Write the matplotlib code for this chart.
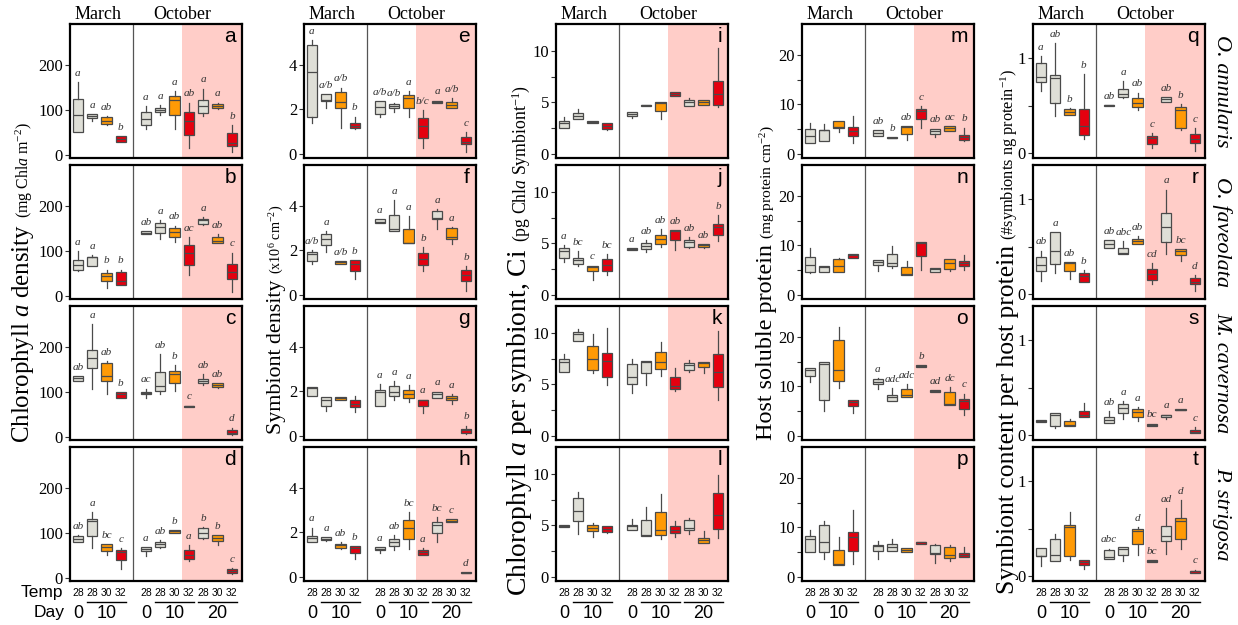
#!/usr/bin/env python3
import matplotlib
matplotlib.use("Agg")
import matplotlib.pyplot as plt

# Treatment layout shared by every panel: March (4 boxes) then October (7 boxes).
temps = [28, 28, 30, 32, 28, 28, 30, 32, 28, 30, 32]
day_labels = ["0", "10", "0", "10", "20"]
months = ["March", "October"]
species = ["O. annularis", "O. faveolata", "M. cavernosa", "P. strigosa"]

# Box statistics per panel: (whisker low, q1, median, q3, whisker high)
a_box = [(51, 51, 89, 125, 162), (75, 81, 87, 91, 91), (65, 68, 76, 83, 86), (28, 29, 34, 41, 42),
         (57, 66, 80, 95, 108), (89, 94, 100, 104, 110), (57, 88, 121, 131, 142), (14, 44, 76, 95, 116),
         (85, 92, 108, 122, 147), (102, 104, 108, 112, 116), (6, 20, 27, 48, 65)]
b_box = [(54, 57, 69, 79, 100), (66, 66, 85, 86, 91), (17, 32, 43, 51, 58), (24, 24, 32, 53, 58),
         (137, 137, 140, 143, 143), (126, 139, 153, 162, 168), (120, 130, 142, 150, 156), (45, 69, 94, 113, 130),
         (158, 160, 168, 171, 175), (118, 118, 122, 130, 137), (9, 36, 53, 71, 96)]
c_box = [(125, 125, 130, 134, 134), (107, 153, 175, 194, 251), (96, 125, 134, 164, 168), (87, 87, 94, 100, 100),
         (87, 94, 97, 100, 107), (96, 102, 113, 143, 183), (101, 119, 139, 147, 159), (66, 66, 68, 69, 69),
         (116, 119, 124, 128, 139), (108, 110, 116, 120, 120), (3, 5, 9, 14, 20)]
d_box = [(80, 80, 86, 93, 95), (66, 93, 127, 131, 146), (51, 59, 68, 74, 74), (19, 40, 56, 61, 65),
         (49, 59, 63, 68, 68), (66, 68, 76, 80, 84), (100, 100, 103, 105, 105), (38, 42, 51, 61, 72),
         (86, 89, 99, 110, 112), (72, 82, 89, 94, 94), (8, 11, 15, 19, 21)]
e_box = [(1.36, 1.63, 3.65, 4.9, 5.09), (2.07, 2.38, 2.4, 2.69, 2.69), (1.13, 2.07, 2.31, 2.75, 2.97), (1.1, 1.13, 1.25, 1.36, 1.66),
         (1.66, 1.78, 2.11, 2.37, 2.37), (1.89, 2.04, 2.14, 2.23, 2.29), (1.66, 2.07, 2.49, 2.64, 2.82), (0.23, 0.72, 1.24, 1.62, 1.96),
         (2.26, 2.26, 2.34, 2.38, 2.38), (2.04, 2.04, 2.19, 2.34, 2.49), (0.08, 0.41, 0.53, 0.75, 0.98)]
f_box = [(1.36, 1.49, 1.81, 1.92, 1.99), (1.92, 2.25, 2.52, 2.72, 2.87), (1.39, 1.39, 1.45, 1.51, 1.51), (0.71, 1.06, 1.36, 1.54, 1.54),
         (3.23, 3.23, 3.28, 3.4, 3.4), (2.87, 2.87, 2.97, 3.58, 4.26), (2.32, 2.32, 2.34, 2.94, 3.53), (1.06, 1.31, 1.62, 1.87, 2.14),
         (2.97, 3.4, 3.43, 3.77, 3.83), (2.26, 2.48, 2.6, 3.0, 3.05), (0.15, 0.59, 0.86, 1.09, 1.28)]
g_box = [(1.76, 1.76, 2.14, 2.18, 2.2), (1.1, 1.35, 1.61, 1.73, 1.73), (1.62, 1.62, 1.68, 1.73, 1.73), (1.05, 1.28, 1.43, 1.58, 1.8),
         (1.35, 1.35, 1.95, 2.03, 2.3), (1.62, 1.8, 1.98, 2.21, 2.45), (1.53, 1.68, 1.85, 2.03, 2.26), (1.01, 1.31, 1.58, 1.62, 1.62),
         (1.68, 1.68, 1.88, 1.95, 1.98), (1.43, 1.58, 1.7, 1.76, 1.85), (0.08, 0.12, 0.23, 0.3, 0.45)]
h_box = [(1.56, 1.56, 1.74, 1.83, 2.2), (1.6, 1.66, 1.71, 1.76, 1.76), (1.25, 1.3, 1.4, 1.48, 1.55), (0.79, 1.07, 1.28, 1.36, 1.36),
         (1.07, 1.18, 1.25, 1.33, 1.33), (1.18, 1.36, 1.56, 1.68, 1.86), (1.25, 1.71, 2.17, 2.55, 2.9), (0.98, 0.98, 1.1, 1.18, 1.28),
         (1.56, 1.98, 2.3, 2.47, 2.66), (2.44, 2.44, 2.52, 2.6, 2.6), (0.14, 0.14, 0.17, 0.21, 0.21)]
i_box = [(2.54, 2.54, 2.97, 3.2, 3.53), (3.4, 3.4, 3.63, 3.96, 4.39), (2.97, 2.97, 3.13, 3.23, 3.23), (2.31, 2.41, 2.74, 2.97, 2.97),
         (3.47, 3.63, 3.86, 4.03, 4.03), (4.62, 4.62, 4.72, 4.79, 4.79), (3.37, 4.13, 4.95, 5.02, 5.02), (5.61, 5.61, 5.84, 6.0, 6.0),
         (4.69, 4.69, 5.02, 5.21, 5.38), (4.72, 4.72, 5.05, 5.18, 5.18), (4.52, 4.79, 5.84, 7.03, 10.23)]
j_box = [(3.17, 3.53, 4.27, 4.5, 4.83), (2.77, 3.03, 3.37, 3.6, 4.27), (1.43, 2.27, 2.67, 2.83, 2.83), (1.93, 2.33, 2.87, 3.5, 3.93),
         (4.33, 4.33, 4.43, 4.5, 4.5), (4.17, 4.43, 4.77, 5.0, 5.33), (4.6, 4.93, 5.43, 5.83, 6.37), (4.37, 5.33, 6.2, 6.27, 6.27),
         (4.5, 4.67, 5.1, 5.33, 5.6), (4.5, 4.6, 4.8, 4.93, 4.93), (5.2, 5.77, 6.6, 6.87, 7.77)]
k_box = [(6.16, 6.16, 7.15, 7.48, 7.97), (9.18, 9.18, 9.93, 10.07, 10.33), (6.07, 6.39, 7.48, 8.75, 9.84), (4.92, 5.67, 7.28, 8.03, 10.49),
         (4.2, 5.08, 5.67, 6.98, 7.44), (4.92, 6.07, 7.2, 7.28, 7.28), (5.84, 6.49, 7.15, 8.13, 9.08), (4.33, 4.52, 4.82, 5.74, 6.62),
         (6.16, 6.39, 6.89, 7.11, 7.38), (6.07, 6.72, 7.05, 7.21, 7.21), (3.44, 4.75, 6.23, 7.93, 10.16)]
l_box = [(4.87, 4.87, 4.97, 5.07, 5.07), (4.18, 5.39, 6.38, 7.63, 8.22), (3.85, 4.44, 4.74, 5.0, 5.26), (4.24, 4.34, 4.67, 4.9, 4.9),
         (4.57, 4.57, 4.9, 5.07, 5.66), (4.01, 4.01, 4.08, 5.49, 6.81), (3.68, 4.08, 4.51, 6.25, 8.06), (3.91, 4.24, 4.57, 4.93, 5.39),
         (4.18, 4.51, 4.74, 5.49, 5.72), (3.26, 3.26, 3.62, 3.75, 4.41), (3.75, 4.61, 5.99, 8.13, 9.93)]
m_box = [(2.26, 2.26, 3.63, 5.14, 6.16), (2.53, 2.53, 4.79, 4.93, 6.03), (4.45, 5.27, 5.4, 6.71, 6.71), (2.19, 3.56, 4.59, 5.48, 7.74),
         (3.56, 3.56, 4.25, 4.79, 4.79), (3.15, 3.15, 3.29, 3.42, 3.42), (2.74, 4.04, 5.48, 5.62, 5.62), (5.27, 6.99, 8.77, 9.11, 9.59),
         (3.42, 3.97, 4.59, 5.14, 5.14), (4.66, 4.66, 5.34, 5.62, 5.62), (2.53, 2.74, 3.42, 3.9, 5.34)]
n_box = [(4.47, 4.67, 6.05, 7.63, 9.48), (4.54, 4.54, 5.57, 5.91, 5.91), (4.67, 4.67, 5.84, 7.22, 7.56), (7.56, 7.56, 7.97, 8.25, 8.25),
         (4.88, 6.05, 6.74, 7.08, 7.08), (5.5, 5.91, 6.53, 8.25, 9.97), (3.99, 3.99, 4.33, 5.57, 6.87), (5.02, 7.77, 10.5, 10.72, 10.72),
         (4.67, 4.67, 5.22, 5.5, 5.5), (4.88, 5.15, 6.39, 7.29, 7.29), (5.02, 5.84, 6.53, 6.87, 7.97)]
o_box = [(10.96, 12.19, 13.36, 13.7, 13.7), (5.14, 7.33, 14.52, 14.93, 14.93), (9.73, 11.16, 13.36, 19.32, 21.92), (4.66, 6.03, 6.85, 7.19, 7.19),
         (9.45, 10.48, 10.96, 11.51, 11.6), (6.99, 6.99, 7.88, 8.36, 9.59), (7.88, 7.88, 8.22, 9.38, 10.48), (13.97, 13.97, 14.18, 14.32, 14.32),
         (8.97, 8.97, 9.11, 9.25, 9.25), (6.16, 6.16, 6.51, 8.9, 9.93), (4.32, 5.48, 7.12, 7.4, 8.56)]
p_box = [(5.14, 5.14, 7.67, 8.36, 9.38), (3.7, 5.14, 6.99, 10.55, 11.23), (2.33, 2.33, 2.53, 5.48, 8.01), (2.53, 5.27, 8.01, 9.04, 13.49),
         (3.7, 5.27, 6.16, 6.51, 7.19), (5.27, 5.27, 5.96, 6.64, 7.67), (5.07, 5.07, 5.48, 5.75, 5.75), (6.64, 6.64, 6.99, 7.12, 7.12),
         (2.88, 4.59, 4.79, 6.51, 6.6), (3.22, 3.9, 4.45, 5.96, 6.51), (4.04, 4.04, 4.45, 4.79, 6.1)]
q_box = [(0.656, 0.745, 0.805, 0.947, 1.02), (0.39, 0.532, 0.787, 0.823, 1.16), (0.4, 0.4, 0.436, 0.461, 0.479), (0.152, 0.195, 0.284, 0.461, 0.833),
         (0.496, 0.496, 0.504, 0.507, 0.507), (0.578, 0.592, 0.628, 0.681, 0.762), (0.45, 0.486, 0.525, 0.578, 0.638), (0.053, 0.096, 0.16, 0.177, 0.213),
         (0.539, 0.539, 0.574, 0.592, 0.592), (0.248, 0.266, 0.45, 0.486, 0.514), (0.025, 0.106, 0.152, 0.202, 0.266)]
r_box = [(0.139, 0.246, 0.31, 0.389, 0.46), (0.22, 0.32, 0.46, 0.65, 0.65), (0.16, 0.246, 0.33, 0.34, 0.34), (0.13, 0.13, 0.19, 0.22, 0.25),
         (0.49, 0.49, 0.525, 0.568, 0.568), (0.425, 0.425, 0.435, 0.49, 0.56), (0.525, 0.525, 0.56, 0.578, 0.614), (0.104, 0.15, 0.21, 0.268, 0.33),
         (0.425, 0.55, 0.71, 0.857, 1.1), (0.346, 0.418, 0.46, 0.478, 0.478), (0.032, 0.104, 0.132, 0.168, 0.2)]
s_box = [(0.14, 0.14, 0.155, 0.165, 0.165), (0.077, 0.102, 0.21, 0.229, 0.236), (0.095, 0.095, 0.113, 0.155, 0.176), (0.19, 0.19, 0.218, 0.26, 0.342),
         (0.13, 0.13, 0.165, 0.19, 0.254), (0.176, 0.229, 0.289, 0.324, 0.36), (0.155, 0.194, 0.246, 0.271, 0.296), (0.095, 0.095, 0.113, 0.123, 0.123),
         (0.175, 0.194, 0.208, 0.218, 0.218), (0.268, 0.268, 0.27, 0.271, 0.271), (0.025, 0.025, 0.035, 0.05, 0.085)]
t_box = [(0.113, 0.21, 0.213, 0.298, 0.298), (0.156, 0.156, 0.22, 0.397, 0.44), (0.167, 0.21, 0.514, 0.539, 0.68), (0.078, 0.121, 0.149, 0.167, 0.167),
         (0.177, 0.177, 0.202, 0.28, 0.29), (0.156, 0.22, 0.291, 0.309, 0.309), (0.22, 0.337, 0.475, 0.496, 0.521), (0.149, 0.149, 0.156, 0.167, 0.167),
         (0.238, 0.372, 0.426, 0.528, 0.716), (0.291, 0.397, 0.582, 0.617, 0.805), (0.035, 0.035, 0.05, 0.06, 0.07)]

# Significance letters above each box ("" = none)
a_lab = ["a", "a", "ab", "b", "a", "a", "a", "ab", "a", "a", "b"]
b_lab = ["a", "a", "b", "b", "ab", "a", "ab", "ac", "a", "ab", "c"]
c_lab = ["ab", "a", "ab", "b", "ac", "ab", "b", "c", "ab", "ab", "d"]
d_lab = ["ab", "a", "bc", "c", "a", "ab", "b", "a", "b", "b", "c"]
e_lab = ["a", "a/b", "a/b", "b", "a/b", "a/b", "a", "b/c", "a", "a/b", "c"]
f_lab = ["a/b", "a", "a/b", "b", "a", "a", "a", "b", "a", "a", "b"]
g_lab = ["", "", "", "", "a", "a", "a", "a", "a", "a", "b"]
h_lab = ["a", "a", "ab", "b", "a", "ab", "bc", "a", "bc", "c", "d"]
j_lab = ["a", "bc", "c", "bc", "a", "ab", "ab", "ab", "ab", "ab", "b"]
m_lab = ["", "", "", "", "ab", "b", "ab", "c", "ab", "ac", "b"]
o_lab = ["", "", "", "", "a", "adc", "adc", "b", "ad", "dc", "c"]
q_lab = ["a", "ab", "b", "b", "ab", "a", "ab", "c", "ab", "b", "c"]
r_lab = ["ab", "a", "ab", "b", "ab", "abc", "ab", "cd", "a", "bc", "d"]
s_lab = ["", "", "", "", "ab", "a", "a", "bc", "a", "a", "c"]
t_lab = ["", "", "", "", "abc", "", "d", "bc", "ad", "d", "c"]
no_lab = [""] * 11

SERIF = "Liberation Serif"
SANS = "Liberation Sans"
W, H = 1238, 625
FILL = {28: "#DFDFD7", 30: "#FF9A05", 32: "#E5000F"}
EDGE = "#4a4a4a"


def add_ylabel(fig, x_px, big, small, start, end, ratio=0.64):
    # big part + smaller units part along one rotated baseline, sized so that the
    # whole label runs from `start` (bottom, px) to `end` (top, px)
    rend = fig.canvas.get_renderer()
    kw = dict(rotation=90, rotation_mode="anchor", ha="left", va="baseline", family=SERIF)
    t1 = fig.text(0, 0, big, fontsize=16, **kw)
    t2 = fig.text(0, 0, small, fontsize=16 * ratio, **kw)
    h1 = t1.get_window_extent(rend).height
    h2 = t2.get_window_extent(rend).height
    s = (start - end - 5) / (h1 + h2)
    t1.set_fontsize(16 * s)
    t2.set_fontsize(16 * ratio * s)
    x, y = x_px / W, 1 - start / H
    t1.set_position((x, y))
    t2.set_position((x, y + (h1 * s + 5) / H))


def main():
    plt.rcParams["font.family"] = SERIF
    plt.rcParams["mathtext.fontset"] = "custom"
    plt.rcParams["mathtext.rm"] = SERIF
    plt.rcParams["mathtext.it"] = SERIF + ":italic"

    positions = [1, 2, 3, 4, 5.75, 6.75, 7.75, 8.75, 9.75, 10.75, 11.75]
    day_pos = [1, 3, 5.75, 7.75, 10.75]
    underline = [(1.65, 4.35), (6.4, 9.1), (9.4, 12.1)]

    grid = [[(a_box, a_lab, "a"), (e_box, e_lab, "e"), (i_box, no_lab, "i"), (m_box, m_lab, "m"), (q_box, q_lab, "q")],
            [(b_box, b_lab, "b"), (f_box, f_lab, "f"), (j_box, j_lab, "j"), (n_box, no_lab, "n"), (r_box, r_lab, "r")],
            [(c_box, c_lab, "c"), (g_box, g_lab, "g"), (k_box, no_lab, "k"), (o_box, o_lab, "o"), (s_box, s_lab, "s")],
            [(d_box, d_lab, "d"), (h_box, h_lab, "h"), (l_box, no_lab, "l"), (p_box, no_lab, "p"), (t_box, t_lab, "t")]]

    col_left = [70, 304, 556, 802, 1033]
    row_top = [24, 165, 306, 447]
    pw, ph = 172, 134
    ylims = [(-7.5, 291), (-0.2, 5.83), (-0.4, 12.6), (-0.8, 26.2), (-0.05, 1.36)]
    major = [[0, 100, 200], [0, 2, 4], [0, 5, 10], [0, 10, 20], [0, 1]]
    minor = [[], [], [2.5, 7.5], [5, 15], [0.5]]

    fig = plt.figure(figsize=(W / 100, H / 100), dpi=100)

    for r in range(4):
        for c in range(5):
            box, lab, letter = grid[r][c]
            ax = fig.add_axes([col_left[c] / W, 1 - (row_top[r] + ph) / H, pw / W, ph / H])
            ax.set_xlim(0.45, 12.45)
            ax.set_ylim(*ylims[c])
            ax.axvspan(8.25, 12.45, color="#FFCDC8", lw=0, zorder=0)
            ax.axvline(4.875, color="#555555", lw=0.9, zorder=1)

            stats = [dict(whislo=s[0], q1=s[1], med=s[2], q3=s[3], whishi=s[4], fliers=[]) for s in box]
            bp = ax.bxp(stats, positions=positions, widths=0.72, patch_artist=True,
                        showcaps=False, showfliers=False,
                        boxprops=dict(edgecolor=EDGE, linewidth=0.9),
                        medianprops=dict(color=EDGE, linewidth=0.9),
                        whiskerprops=dict(color=EDGE, linewidth=0.9))
            for patch, t in zip(bp["boxes"], temps):
                patch.set_facecolor(FILL[t])

            span = ylims[c][1] - ylims[c][0]
            for x, s, l in zip(positions, box, lab):
                if l:
                    ax.text(x, s[4] + 0.065 * span, l, ha="center", va="center",
                            fontsize=8, style="italic", color="#333333")

            ax.text(0.965, 0.975, letter, transform=ax.transAxes, ha="right", va="top",
                    fontsize=15, family=SANS)

            ax.set_xticks([])
            ax.set_yticks(major[c])
            ax.set_yticks(minor[c], minor=True)
            ax.tick_params(axis="y", which="both", direction="out", length=3.5, width=0.8,
                           labelsize=12, pad=1.5, color="#333333")
            for sp in ax.spines.values():
                sp.set_linewidth(1.6)

            if r == 0:
                ax.text(2.4, 1.005, months[0], transform=ax.get_xaxis_transform(),
                        ha="center", va="bottom", fontsize=13)
                ax.text(8.3, 1.005, months[1], transform=ax.get_xaxis_transform(),
                        ha="center", va="bottom", fontsize=13)
            if r == 3:
                tr = ax.get_xaxis_transform()
                for x, t in zip(positions, temps):
                    ax.text(x, -0.09, str(t), transform=tr, ha="center", va="center",
                            fontsize=7.5, family=SANS)
                for x0, x1 in underline:
                    ax.plot([x0, x1], [-0.157, -0.157], transform=tr, color="black",
                            lw=1.0, clip_on=False)
                for x, d in zip(day_pos, day_labels):
                    ax.text(x, -0.245, d, transform=tr, ha="center", va="center",
                            fontsize=13, family=SANS)
            if c == 4:
                ax.text(1.04, 0.5, species[r], transform=ax.transAxes, rotation=-90,
                        ha="left", va="center", fontsize=16, style="italic")

    # Temp / Day row titles
    fig.text(63 / W, 1 - 593 / H, "Temp", ha="right", va="center", fontsize=12.5, family=SANS)
    fig.text(65 / W, 1 - 613 / H, "Day", ha="right", va="center", fontsize=12.5, family=SANS)

    add_ylabel(fig, 29, "Chlorophyll $a$ density", "(mg Chl$a$ m$^{-2}$)", 443, 122)
    add_ylabel(fig, 281, "Symbiont density", "(x10$^{6}$ cm$^{-2}$)", 434, 205)
    add_ylabel(fig, 526, "Chlorophyll $a$ per symbiont, Ci", "(pg Chl$a$ Symbiont$^{-1}$)", 596, 85)
    add_ylabel(fig, 772, "Host soluble protein", "(mg protein cm$^{-2}$)", 440, 125)
    add_ylabel(fig, 1014, "Symbiont content per host protein", "(#symbionts ng protein$^{-1}$)", 594, 67)

    fig.savefig("out.png", dpi=100)


if __name__ == "__main__":
    main()
